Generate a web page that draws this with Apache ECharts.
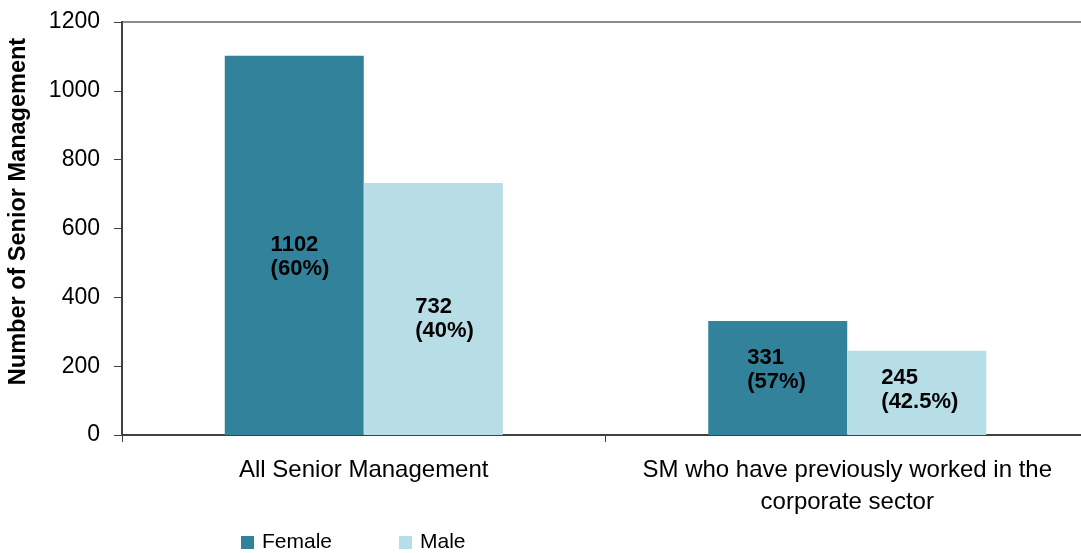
<!DOCTYPE html>
<html>
<head>
<meta charset="utf-8">
<script src="https://cdn.jsdelivr.net/npm/echarts@6/dist/echarts.min.js"></script>
<style>
html,body{margin:0;padding:0;background:#fff;}
#chart{width:1081px;height:553px;}
</style>
</head>
<body>
<div id="chart"></div>
<script>
var categories = ['All Senior Management', 'SM who have previously worked in the\ncorporate sector'];
var femaleValues = [1102, 331];
var maleValues = [732, 245];
var femalePct = ['60%', '57%'];
var malePct = ['40%', '42.5%'];
var yTicks = [0, 200, 400, 600, 800, 1000, 1200];

// label placement inside each bar (style only)
var femaleLabelPos = [['33%', '53%'], ['28%', '43%']];
var maleLabelPos = [['37%', '54%'], ['24.5%', '46%']];

var FONT = '"Liberation Sans", Arial, sans-serif';

function buildData(values, pcts, pos) {
  return values.map(function (v, i) {
    return {
      value: v,
      label: { position: pos[i], formatter: v + '\n(' + pcts[i] + ')' }
    };
  });
}

var labelStyle = {
  show: true,
  align: 'left',
  verticalAlign: 'middle',
  color: '#000',
  fontFamily: FONT,
  fontWeight: 'bold',
  fontSize: 22,
  lineHeight: 24
};

var chart = echarts.init(document.getElementById('chart'), null, { renderer: 'canvas' });
chart.setOption({
  animation: false,
  backgroundColor: '#fff',
  grid: {
    left: 122, top: 22, width: 967, bottom: 118,
    outerBoundsMode: 'none', containLabel: false,
    show: true, borderColor: '#8c8c8c', borderWidth: 2, backgroundColor: 'transparent'
  },
  legend: {
    left: 241, top: 532, padding: 0,
    icon: 'rect', itemWidth: 13, itemHeight: 13, itemGap: 67,
    textStyle: { fontFamily: FONT, fontSize: 21, color: '#000', padding: [0, 0, 0, 3] },
    data: ['Female', 'Male']
  },
  xAxis: {
    type: 'category',
    data: categories,
    axisLine: { show: true, lineStyle: { color: '#404040', width: 2 } },
    axisTick: { show: true, length: 7, alignWithLabel: false, lineStyle: { color: '#404040', width: 1 } },
    axisLabel: { margin: 19, color: '#000', fontFamily: FONT, fontSize: 24, lineHeight: 32, interval: 0 }
  },
  yAxis: {
    type: 'value',
    min: yTicks[0], max: yTicks[yTicks.length - 1], interval: 200,
    name: 'Number of Senior Management',
    nameLocation: 'middle', nameRotate: 90, nameGap: 91,
    nameTextStyle: { fontFamily: FONT, fontWeight: 'bold', fontSize: 23.5, color: '#000', padding: [0, 0, 0, 34] },
    axisLine: { show: true, lineStyle: { color: '#404040', width: 2 } },
    axisTick: { show: true, length: 8, inside: false, lineStyle: { color: '#404040', width: 1 } },
    axisLabel: { margin: 22, color: '#000', fontFamily: FONT, fontSize: 23, formatter: function (v) { return String(v); } },
    splitLine: { show: false }
  },
  series: [
    {
      name: 'Female', type: 'bar', barWidth: 139, barGap: '0%',
      itemStyle: { color: '#31829a' },
      label: labelStyle,
      data: buildData(femaleValues, femalePct, femaleLabelPos)
    },
    {
      name: 'Male', type: 'bar', barWidth: 139, barGap: '0%',
      itemStyle: { color: '#b7dde7' },
      label: labelStyle,
      data: buildData(maleValues, malePct, maleLabelPos)
    }
  ]
});
</script>
</body>
</html>
